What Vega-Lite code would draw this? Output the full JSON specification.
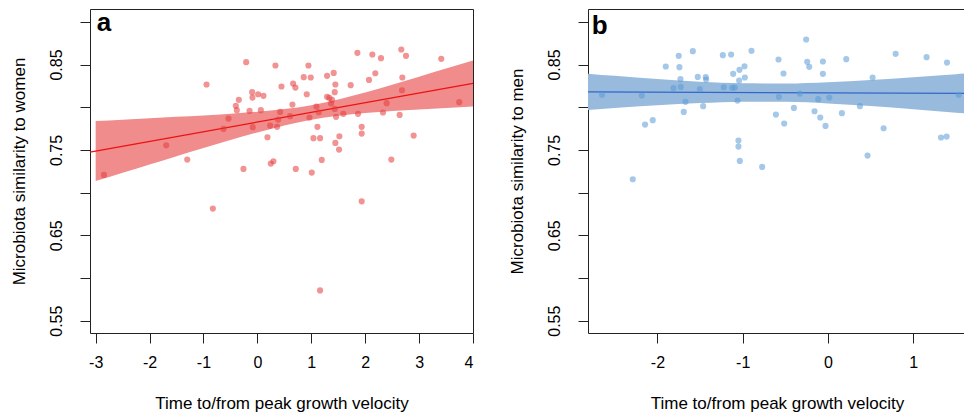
{
  "$schema": "https://vega.github.io/schema/vega-lite/v6.json",
  "autosize": {"type": "pad"},
  "padding": {"left": 9, "top": 8, "right": 0, "bottom": 0},
  "background": "white",
  "bounds": "flush",
  "spacing": 115,
  "config": {
    "view": {"stroke": "#222", "strokeWidth": 1},
    "font": "Liberation Sans",
    "axis": {
      "domain": false, "grid": false, "tickSize": 10, "tickColor": "#222", "tickWidth": 1,
      "labelFont": "Liberation Sans", "labelFontSize": 16, "labelColor": "#000",
      "titleFont": "Liberation Sans", "titleFontSize": 17, "titleFontWeight": "normal", "titleColor": "#000"
    },
    "axisX": {"labelPadding": 11, "titlePadding": 25},
    "axisY": {"labelPadding": 16, "titlePadding": 20, "labelAngle": 270}
  },
  "datasets": {
    "wPts": [
      {"x": -2.846, "y": 0.7207}, {"x": -1.691, "y": 0.7555}, {"x": -1.301, "y": 0.7387}, {"x": -0.943, "y": 0.8266},
      {"x": -0.628, "y": 0.7746}, {"x": -0.536, "y": 0.7867}, {"x": -0.400, "y": 0.8016}, {"x": -0.381, "y": 0.7965},
      {"x": -0.344, "y": 0.8086}, {"x": -0.208, "y": 0.8527}, {"x": -0.146, "y": 0.7957}, {"x": -0.097, "y": 0.8176},
      {"x": -0.091, "y": 0.8113}, {"x": -0.085, "y": 0.7766}, {"x": 0.014, "y": 0.8152}, {"x": 0.064, "y": 0.7965},
      {"x": 0.113, "y": 0.8133}, {"x": 0.187, "y": 0.7648}, {"x": 0.237, "y": 0.7785}, {"x": 0.249, "y": 0.7340},
      {"x": 0.298, "y": 0.7367}, {"x": 0.335, "y": 0.8488}, {"x": 0.366, "y": 0.7770}, {"x": 0.385, "y": 0.7855},
      {"x": 0.422, "y": 0.7945}, {"x": 0.447, "y": 0.8242}, {"x": 0.607, "y": 0.7895}, {"x": 0.650, "y": 0.8031},
      {"x": 0.663, "y": 0.8277}, {"x": 0.706, "y": 0.8230}, {"x": 0.712, "y": 0.7277}, {"x": 0.860, "y": 0.8352},
      {"x": 0.916, "y": 0.8152}, {"x": 0.947, "y": 0.8488}, {"x": 0.965, "y": 0.7879}, {"x": 0.990, "y": 0.8348},
      {"x": 1.009, "y": 0.7234}, {"x": 1.040, "y": 0.7637}, {"x": 1.095, "y": 0.8008}, {"x": 1.114, "y": 0.7770},
      {"x": 1.138, "y": 0.7941}, {"x": 1.163, "y": 0.7637}, {"x": 1.194, "y": 0.7383}, {"x": 1.293, "y": 0.8367},
      {"x": 1.293, "y": 0.8121}, {"x": 1.336, "y": 0.8109}, {"x": 1.367, "y": 0.8043}, {"x": 1.385, "y": 0.8086},
      {"x": 1.416, "y": 0.8402}, {"x": 1.435, "y": 0.8176}, {"x": 1.447, "y": 0.8266}, {"x": 1.435, "y": 0.7980},
      {"x": 1.460, "y": 0.7887}, {"x": 1.447, "y": 0.7582}, {"x": 1.521, "y": 0.7660}, {"x": 1.515, "y": 0.7504},
      {"x": 1.595, "y": 0.7922}, {"x": 1.731, "y": 0.8258}, {"x": 1.855, "y": 0.8637}, {"x": 1.867, "y": 0.7922},
      {"x": 1.935, "y": 0.7770}, {"x": 1.935, "y": 0.7691}, {"x": 2.071, "y": 0.8320}, {"x": 2.133, "y": 0.8617},
      {"x": 2.188, "y": 0.8398}, {"x": 2.293, "y": 0.8574}, {"x": 2.330, "y": 0.7938}, {"x": 2.398, "y": 0.8047},
      {"x": 2.485, "y": 0.7387}, {"x": 2.639, "y": 0.7910}, {"x": 2.670, "y": 0.8676}, {"x": 2.689, "y": 0.8348},
      {"x": 2.683, "y": 0.8199}, {"x": 2.757, "y": 0.8602}, {"x": 2.899, "y": 0.7668}, {"x": 3.411, "y": 0.8566},
      {"x": 3.745, "y": 0.8059}, {"x": -0.826, "y": 0.6813}, {"x": 1.935, "y": 0.6898}, {"x": 1.163, "y": 0.5855},
      {"x": -0.258, "y": 0.7277}
    ],
    "wBand": [
      {"x": -3.0, "lo": 0.7135, "hi": 0.7839}, {"x": -2.5, "lo": 0.7233, "hi": 0.7854},
      {"x": -2.0, "lo": 0.7330, "hi": 0.7870}, {"x": -1.5, "lo": 0.7427, "hi": 0.7887},
      {"x": -1.0, "lo": 0.7522, "hi": 0.7904}, {"x": -0.5, "lo": 0.7616, "hi": 0.7924},
      {"x": 0.0, "lo": 0.7705, "hi": 0.7947}, {"x": 0.5, "lo": 0.7787, "hi": 0.7978},
      {"x": 1.0, "lo": 0.7854, "hi": 0.8024}, {"x": 1.5, "lo": 0.7900, "hi": 0.8091},
      {"x": 2.0, "lo": 0.7931, "hi": 0.8173}, {"x": 2.5, "lo": 0.7955, "hi": 0.8263},
      {"x": 3.0, "lo": 0.7974, "hi": 0.8356}, {"x": 3.5, "lo": 0.7992, "hi": 0.8452},
      {"x": 4.0, "lo": 0.8008, "hi": 0.8548}
    ],
    "wLine": [{"x": -3.105, "y": 0.7475}, {"x": 4.0, "y": 0.8278}],
    "mPts": [
      {"x": -2.649, "y": 0.8145}, {"x": -2.289, "y": 0.7156}, {"x": -2.184, "y": 0.8137}, {"x": -2.145, "y": 0.7797},
      {"x": -2.055, "y": 0.7848}, {"x": -1.902, "y": 0.8477}, {"x": -1.812, "y": 0.8223}, {"x": -1.750, "y": 0.8602},
      {"x": -1.742, "y": 0.8469}, {"x": -1.730, "y": 0.8328}, {"x": -1.726, "y": 0.8238}, {"x": -1.671, "y": 0.8063},
      {"x": -1.691, "y": 0.7945}, {"x": -1.585, "y": 0.8656}, {"x": -1.527, "y": 0.8355}, {"x": -1.503, "y": 0.8211},
      {"x": -1.464, "y": 0.8012}, {"x": -1.433, "y": 0.8352}, {"x": -1.429, "y": 0.8324}, {"x": -1.233, "y": 0.8609},
      {"x": -1.222, "y": 0.8234}, {"x": -1.136, "y": 0.8617}, {"x": -1.124, "y": 0.8227}, {"x": -1.112, "y": 0.8391},
      {"x": -1.093, "y": 0.8230}, {"x": -1.061, "y": 0.8078}, {"x": -1.038, "y": 0.8438}, {"x": -1.042, "y": 0.8313},
      {"x": -1.050, "y": 0.7609}, {"x": -1.050, "y": 0.7539}, {"x": -1.034, "y": 0.7371}, {"x": -0.979, "y": 0.8480},
      {"x": -0.975, "y": 0.8348}, {"x": -0.897, "y": 0.8660}, {"x": -0.772, "y": 0.7301}, {"x": -0.611, "y": 0.7914},
      {"x": -0.580, "y": 0.8559}, {"x": -0.576, "y": 0.8121}, {"x": -0.522, "y": 0.8395}, {"x": -0.514, "y": 0.7809},
      {"x": -0.400, "y": 0.7992}, {"x": -0.330, "y": 0.8160}, {"x": -0.256, "y": 0.8793}, {"x": -0.244, "y": 0.8531},
      {"x": -0.220, "y": 0.8473}, {"x": -0.158, "y": 0.7953}, {"x": -0.115, "y": 0.8094}, {"x": -0.091, "y": 0.7879},
      {"x": -0.060, "y": 0.8535}, {"x": -0.060, "y": 0.8391}, {"x": -0.029, "y": 0.7781}, {"x": 0.015, "y": 0.8113},
      {"x": 0.163, "y": 0.7930}, {"x": 0.214, "y": 0.8563}, {"x": 0.374, "y": 0.8012}, {"x": 0.464, "y": 0.7434},
      {"x": 0.523, "y": 0.8348}, {"x": 0.652, "y": 0.7754}, {"x": 0.793, "y": 0.8625}, {"x": 1.156, "y": 0.8586},
      {"x": 1.325, "y": 0.7645}, {"x": 1.391, "y": 0.7656}, {"x": 1.395, "y": 0.8523}, {"x": 1.532, "y": 0.8145}
    ],
    "mBand": [
      {"x": -2.814, "lo": 0.7968, "hi": 0.8393}, {"x": -2.5, "lo": 0.7990, "hi": 0.8367},
      {"x": -2.0, "lo": 0.8023, "hi": 0.8330}, {"x": -1.5, "lo": 0.8049, "hi": 0.8299},
      {"x": -1.0, "lo": 0.8065, "hi": 0.8280}, {"x": -0.5, "lo": 0.8063, "hi": 0.8277},
      {"x": 0.0, "lo": 0.8044, "hi": 0.8292}, {"x": 0.5, "lo": 0.8014, "hi": 0.8318},
      {"x": 1.0, "lo": 0.7977, "hi": 0.8350}, {"x": 1.5, "lo": 0.7936, "hi": 0.8387},
      {"x": 1.618, "lo": 0.7927, "hi": 0.8395}
    ],
    "mLine": [{"x": -2.814, "y": 0.8180}, {"x": 1.618, "y": 0.8161}],
    "wLab": [{"label": "a"}],
    "mLab": [{"label": "b"}]
  },
  "hconcat": [
    {
      "width": 383,
      "height": 324,
      "layer": [
        {
          "encoding": {
            "x": {"field": "x", "type": "quantitative",
                  "scale": {"domain": [-3.105, 4.0], "nice": false, "zero": false},
                  "axis": {"title": "Time to/from peak growth velocity", "values": [-3, -2, -1, 0, 1, 2, 3, 4], "labelExpr": "datum.value + ''"}},
            "y": {"field": "y", "type": "quantitative",
                  "scale": {"domain": [0.5356, 0.915], "nice": false, "zero": false},
                  "axis": {"title": "Microbiota similarity to women", "values": [0.55, 0.6, 0.65, 0.7, 0.75, 0.8, 0.85, 0.9],
                           "labelExpr": "(abs(datum.value-0.55)<0.001||abs(datum.value-0.65)<0.001||abs(datum.value-0.75)<0.001||abs(datum.value-0.85)<0.001) ? format(datum.value,'.2f') : ''"}}
          },
          "layer": [
            {"data": {"name": "wBand"}, "mark": {"type": "area", "color": "#f08c8c", "interpolate": "monotone"},
             "encoding": {"y": {"field": "lo", "type": "quantitative"}, "y2": {"field": "hi"}}},
            {"data": {"name": "wLine"}, "mark": {"type": "line", "color": "#ee1111", "strokeWidth": 1.3}, "encoding": {}},
            {"data": {"name": "wPts"}, "mark": {"type": "circle", "color": "#e53a3a", "opacity": 0.55, "size": 38}}
          ]
        },
        {"data": {"name": "wLab"}, "mark": {"type": "text", "fontSize": 26, "fontWeight": "bold", "font": "Liberation Sans", "align": "left", "baseline": "alphabetic", "color": "#000"},
         "encoding": {"x": {"datum": -2.98, "type": "quantitative", "title": "Time to/from peak growth velocity"}, "y": {"datum": 0.889, "type": "quantitative", "title": "Microbiota similarity to women"}, "text": {"field": "label"}}}
      ]
    },
    {
      "width": 378,
      "height": 324,
      "layer": [
        {
          "encoding": {
            "x": {"field": "x", "type": "quantitative",
                  "scale": {"domain": [-2.814, 1.618], "nice": false, "zero": false},
                  "axis": {"title": "Time to/from peak growth velocity", "values": [-2, -1, 0, 1], "labelExpr": "datum.value + ''"}},
            "y": {"field": "y", "type": "quantitative",
                  "scale": {"domain": [0.5356, 0.915], "nice": false, "zero": false},
                  "axis": {"title": "Microbiota similarity to men", "values": [0.55, 0.6, 0.65, 0.7, 0.75, 0.8, 0.85, 0.9],
                           "labelExpr": "(abs(datum.value-0.55)<0.001||abs(datum.value-0.65)<0.001||abs(datum.value-0.75)<0.001||abs(datum.value-0.85)<0.001) ? format(datum.value,'.2f') : ''"}}
          },
          "layer": [
            {"data": {"name": "mBand"}, "mark": {"type": "area", "color": "#98bbdd", "interpolate": "monotone"},
             "encoding": {"y": {"field": "lo", "type": "quantitative"}, "y2": {"field": "hi"}}},
            {"data": {"name": "mLine"}, "mark": {"type": "line", "color": "#3366cc", "strokeWidth": 1.3}, "encoding": {}},
            {"data": {"name": "mPts"}, "mark": {"type": "circle", "color": "#5b9bd5", "opacity": 0.55, "size": 38}}
          ]
        },
        {"data": {"name": "mLab"}, "mark": {"type": "text", "fontSize": 26, "fontWeight": "bold", "font": "Liberation Sans", "align": "left", "baseline": "alphabetic", "color": "#000"},
         "encoding": {"x": {"datum": -2.77, "type": "quantitative", "title": "Time to/from peak growth velocity"}, "y": {"datum": 0.886, "type": "quantitative", "title": "Microbiota similarity to men"}, "text": {"field": "label"}}}
      ]
    }
  ]
}
